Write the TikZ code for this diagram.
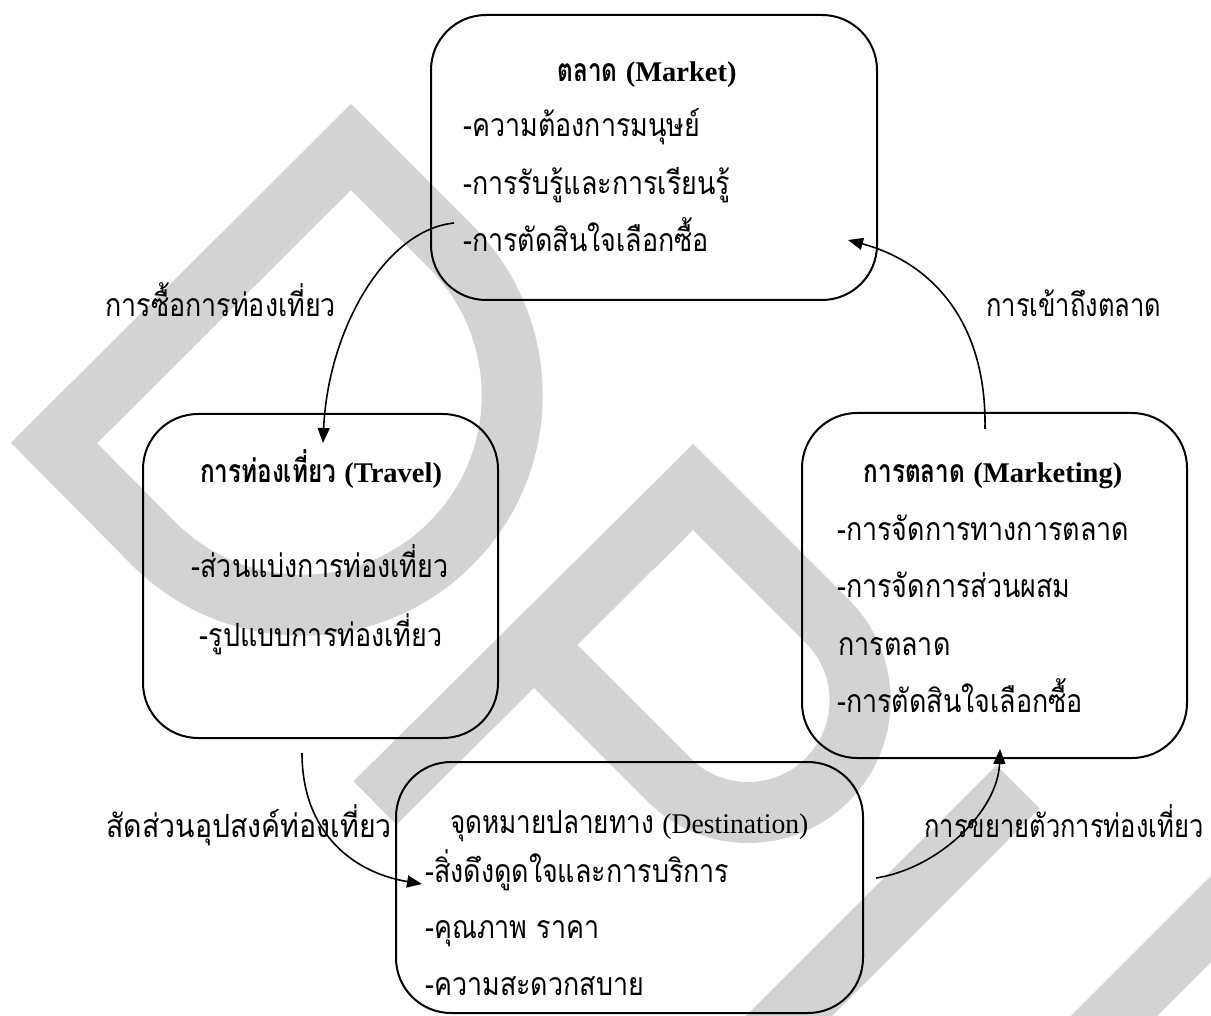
\documentclass[tikz,border=0pt]{standalone}
\usepackage{graphicx}
\usepackage{fontspec}
\setmainfont{Liberation Serif}
\newfontfamily\thai[Script=Thai,FakeStretch=0.84]{Loma}
\newfontfamily\thaib[Script=Thai,FakeStretch=0.76]{Loma}
\usetikzlibrary{arrows.meta}
\definecolor{wmgray}{RGB}{211,211,211}
\newcommand{\entxt}[1]{{\rmfamily\fontsize{28.5}{30}\selectfont #1}}
\begin{document}
\begin{tikzpicture}[x=1pt,y=-1pt,
  wm/.style={draw=wmgray, line width=61pt, line join=miter, line cap=butt},
  box/.style={draw, line width=2pt, rounded corners=55pt, inner sep=0pt},
  th/.style={font=\thai\fontsize{32}{36}\selectfont, inner sep=0pt},
  thb/.style={font=\thaib\fontsize{32}{36}\selectfont\bfseries, inner sep=0pt},
  arr/.style={line width=1.6pt, -{Triangle[length=15pt,width=12pt]}}]
\useasboundingbox (0,0) rectangle (1211,1016);
% watermark
\begin{scope}
\clip (0,0) rectangle (1211,1016);
\draw[wm] (54,443) -- (351,147) -- (450.7,246.7) arc[start angle=-45,end angle=135,radius=210] -- cycle;
\draw[wm] (375,803) -- (693,487) -- (827.3,621.3) arc[start angle=-45,end angle=135,radius=112] -- (534.6,645.4);
\draw[wm] (1018,787) -- (718,1087);
\draw[wm] (1080,1050) -- (1300,830);
\end{scope}
% boxes
\node[box, minimum width=446pt, minimum height=285pt] (market) at (654,157.5) {};
\node[box, minimum width=355pt, minimum height=324pt] (travel) at (320.5,576) {};
\node[box, minimum width=385pt, minimum height=345pt] (marketing) at (994.5,585.5) {};
\node[box, minimum width=467pt, minimum height=251pt] (dest) at (629.5,887.5) {};
% market texts
\node[thb, anchor=base] (mt) at (647,82) {ตลาด \entxt{\bfseries(Market)}};
\node[th, anchor=base west] (m1) at (463,137) {-ความต้องการมนุษย์};
\node[th, anchor=base west] (m2) at (463,195) {-การรับรู้และการเรียนรู้};
\node[th, anchor=base west] (m3) at (463,252) {-การตัดสินใจเลือกซื้อ};
% travel texts
\node[thb, anchor=base] (tt) at (321,482) {การท่องเที่ยว \entxt{\bfseries(Travel)}};
\node[th, anchor=base] (t1) at (320,577) {-ส่วนแบ่งการท่องเที่ยว};
\node[th, anchor=base] (t2) at (321,646) {-รูปแบบการท่องเที่ยว};
% marketing texts
\node[thb, anchor=base] (kt) at (993,482) {การตลาด \entxt{\bfseries(Marketing)}};
\node[th, anchor=base west] (k1) at (837,540) {-การจัดการทางการตลาด};
\node[th, anchor=base west] (k2) at (837,597) {-การจัดการส่วนผสม};
\node[th, anchor=base west] (k3) at (838,655) {การตลาด};
\node[th, anchor=base west] (k4) at (837,712) {-การตัดสินใจเลือกซื้อ};
% destination texts
\node[th, anchor=base west] (dt) at (450,833) {\scalebox{0.97}[1]{จุดหมายปลายทาง \entxt{(Destination)}}};
\node[th, anchor=base west] (d1) at (425,882) {-สิ่งดึงดูดใจและการบริการ};
\node[th, anchor=base west] (d2) at (425,938) {-คุณภาพ ราคา};
\node[th, anchor=base west] (d3) at (425,995) {-ความสะดวกสบาย};
% labels
\node[th, anchor=base west] (l1) at (105,317) {การซื้อการท่องเที่ยว};
\node[th, anchor=base west] (l2) at (986,317) {\scalebox{0.95}[1]{การเข้าถึงตลาด}};
\node[th, anchor=base east] (l3) at (392,837) {\scalebox{1.06}[1]{สัดส่วนอุปสงค์ท่องเที่ยว}};
\node[th, anchor=base west] (l4) at (924,837) {\scalebox{0.95}[1]{การขยายตัวการท่องเที่ยว}};
% connectors
\draw[arr] ([xshift=24pt,yshift=78pt]market.south west) .. controls (385,230) and (328,330) .. ([xshift=2.5pt,yshift=-30pt]travel.north);
\draw[arr] ([xshift=-9.5pt,yshift=-17pt]marketing.north) .. controls (987,320) and (930,262) .. ([xshift=-30pt,yshift=-82.5pt]market.east);
\draw[arr] ([xshift=-18.5pt,yshift=-14pt]travel.south) .. controls (302,830) and (350,872) .. ([xshift=27pt,yshift=3.5pt]dest.west);
\draw[arr] ([xshift=12pt,yshift=9.5pt]dest.east) .. controls (940,868) and (998,810) .. ([xshift=5.5pt,yshift=10pt]marketing.south);
\end{tikzpicture}
\end{document}
